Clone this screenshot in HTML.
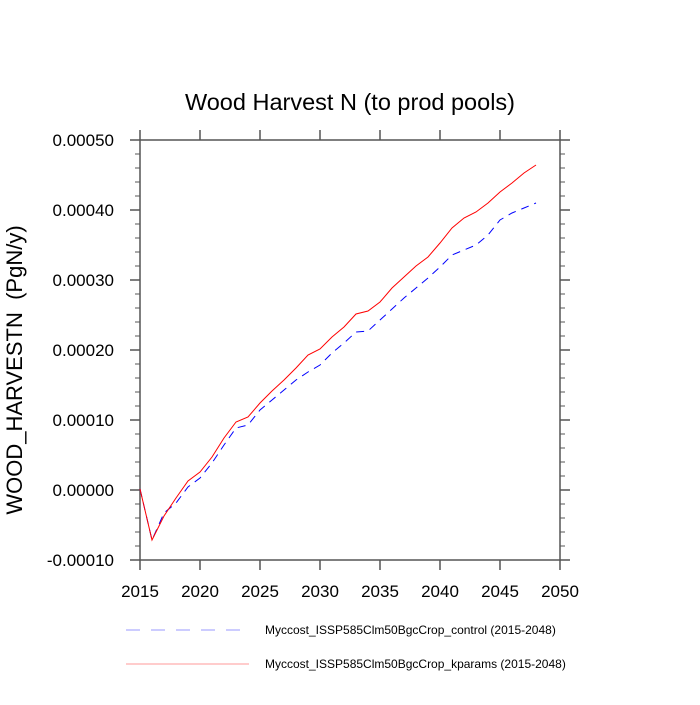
<!DOCTYPE html>
<html><head><meta charset="utf-8"><style>body{margin:0;background:#fff}</style></head><body>
<svg width="700" height="700" xmlns="http://www.w3.org/2000/svg" font-family="Liberation Sans, sans-serif">
<rect width="700" height="700" fill="#fff"/>
<text x="350" y="110" font-size="23.5" text-anchor="middle">Wood Harvest N (to prod pools)</text>
<text transform="translate(22,370) rotate(-90)" font-size="22" text-anchor="middle">WOOD_HARVESTN&#160;&#160;(PgN/y)</text>
<g stroke="#555" stroke-width="1.5" fill="none">
<rect x="140" y="140" width="420" height="420"/>
<path d="M140,130V140M200,130V140M260,130V140M320,130V140M380,130V140M440,130V140M500,130V140M560,130V140
M140,560V570M200,560V570M260,560V570M320,560V570M380,560V570M440,560V570M500,560V570M560,560V570
M130,140H140M130,210H140M130,280H140M130,350H140M130,420H140M130,490H140M130,560H140
M560,140H570M560,210H570M560,280H570M560,350H570M560,420H570M560,490H570M560,560H570"/>
<path stroke-width="1" d="M135,154H140M135,168H140M135,182H140M135,196H140M135,224H140M135,238H140M135,252H140M135,266H140M135,294H140M135,308H140M135,322H140M135,336H140M135,364H140M135,378H140M135,392H140M135,406H140M135,434H140M135,448H140M135,462H140M135,476H140M135,504H140M135,518H140M135,532H140M135,546H140
M560,154H565M560,168H565M560,182H565M560,196H565M560,224H565M560,238H565M560,252H565M560,266H565M560,294H565M560,308H565M560,322H565M560,336H565M560,364H565M560,378H565M560,392H565M560,406H565M560,434H565M560,448H565M560,462H565M560,476H565M560,504H565M560,518H565M560,532H565M560,546H565"/>
</g>
<g font-size="17" text-anchor="end">
<text x="114" y="146">0.00050</text><text x="114" y="216">0.00040</text><text x="114" y="286">0.00030</text><text x="114" y="356">0.00020</text><text x="114" y="426">0.00010</text><text x="114" y="496">0.00000</text><text x="114" y="566">-0.00010</text>
</g>
<g font-size="17" text-anchor="middle">
<text x="140" y="597">2015</text><text x="200" y="597">2020</text><text x="260" y="597">2025</text><text x="320" y="597">2030</text><text x="380" y="597">2035</text><text x="440" y="597">2040</text><text x="500" y="597">2045</text><text x="560" y="597">2050</text>
</g>
<polyline fill="none" stroke="#00f" stroke-width="1" stroke-dasharray="8,6" points="140,489 152,540 164,513 176,503 188,487 200,478 212,463 224,445 236,428 248,425 260,410 272,400 284,390 296,380 308,372 320,365 332,353 344,343 356,332 368,331 380,320 392,309 404,298 416,288 428,278 440,267 452,255 464,250 476,245 488,235 500,220 512,213 524,208 536,203"/>
<polyline fill="none" stroke="#f00" stroke-width="1" points="140,489 152,540 164,516 176,498 188,481 200,472 212,457 224,438 236,422 248,417 260,403 272,391 284,380 296,368 308,355 320,349 332,337 344,327 356,314 368,311 380,302 392,288 404,277 416,266 428,257 440,243 452,228 464,218 476,212 488,203 500,192 512,183 524,173 536,165"/>
<line x1="126" y1="630" x2="242" y2="630" stroke="#99f" stroke-width="1" stroke-dasharray="14,11"/>
<line x1="126" y1="664" x2="249" y2="664" stroke="#f99" stroke-width="1"/>
<text x="265" y="634" font-size="12">Myccost_ISSP585Clm50BgcCrop_control (2015-2048)</text>
<text x="265" y="668" font-size="12">Myccost_ISSP585Clm50BgcCrop_kparams (2015-2048)</text>
</svg>
</body></html>
